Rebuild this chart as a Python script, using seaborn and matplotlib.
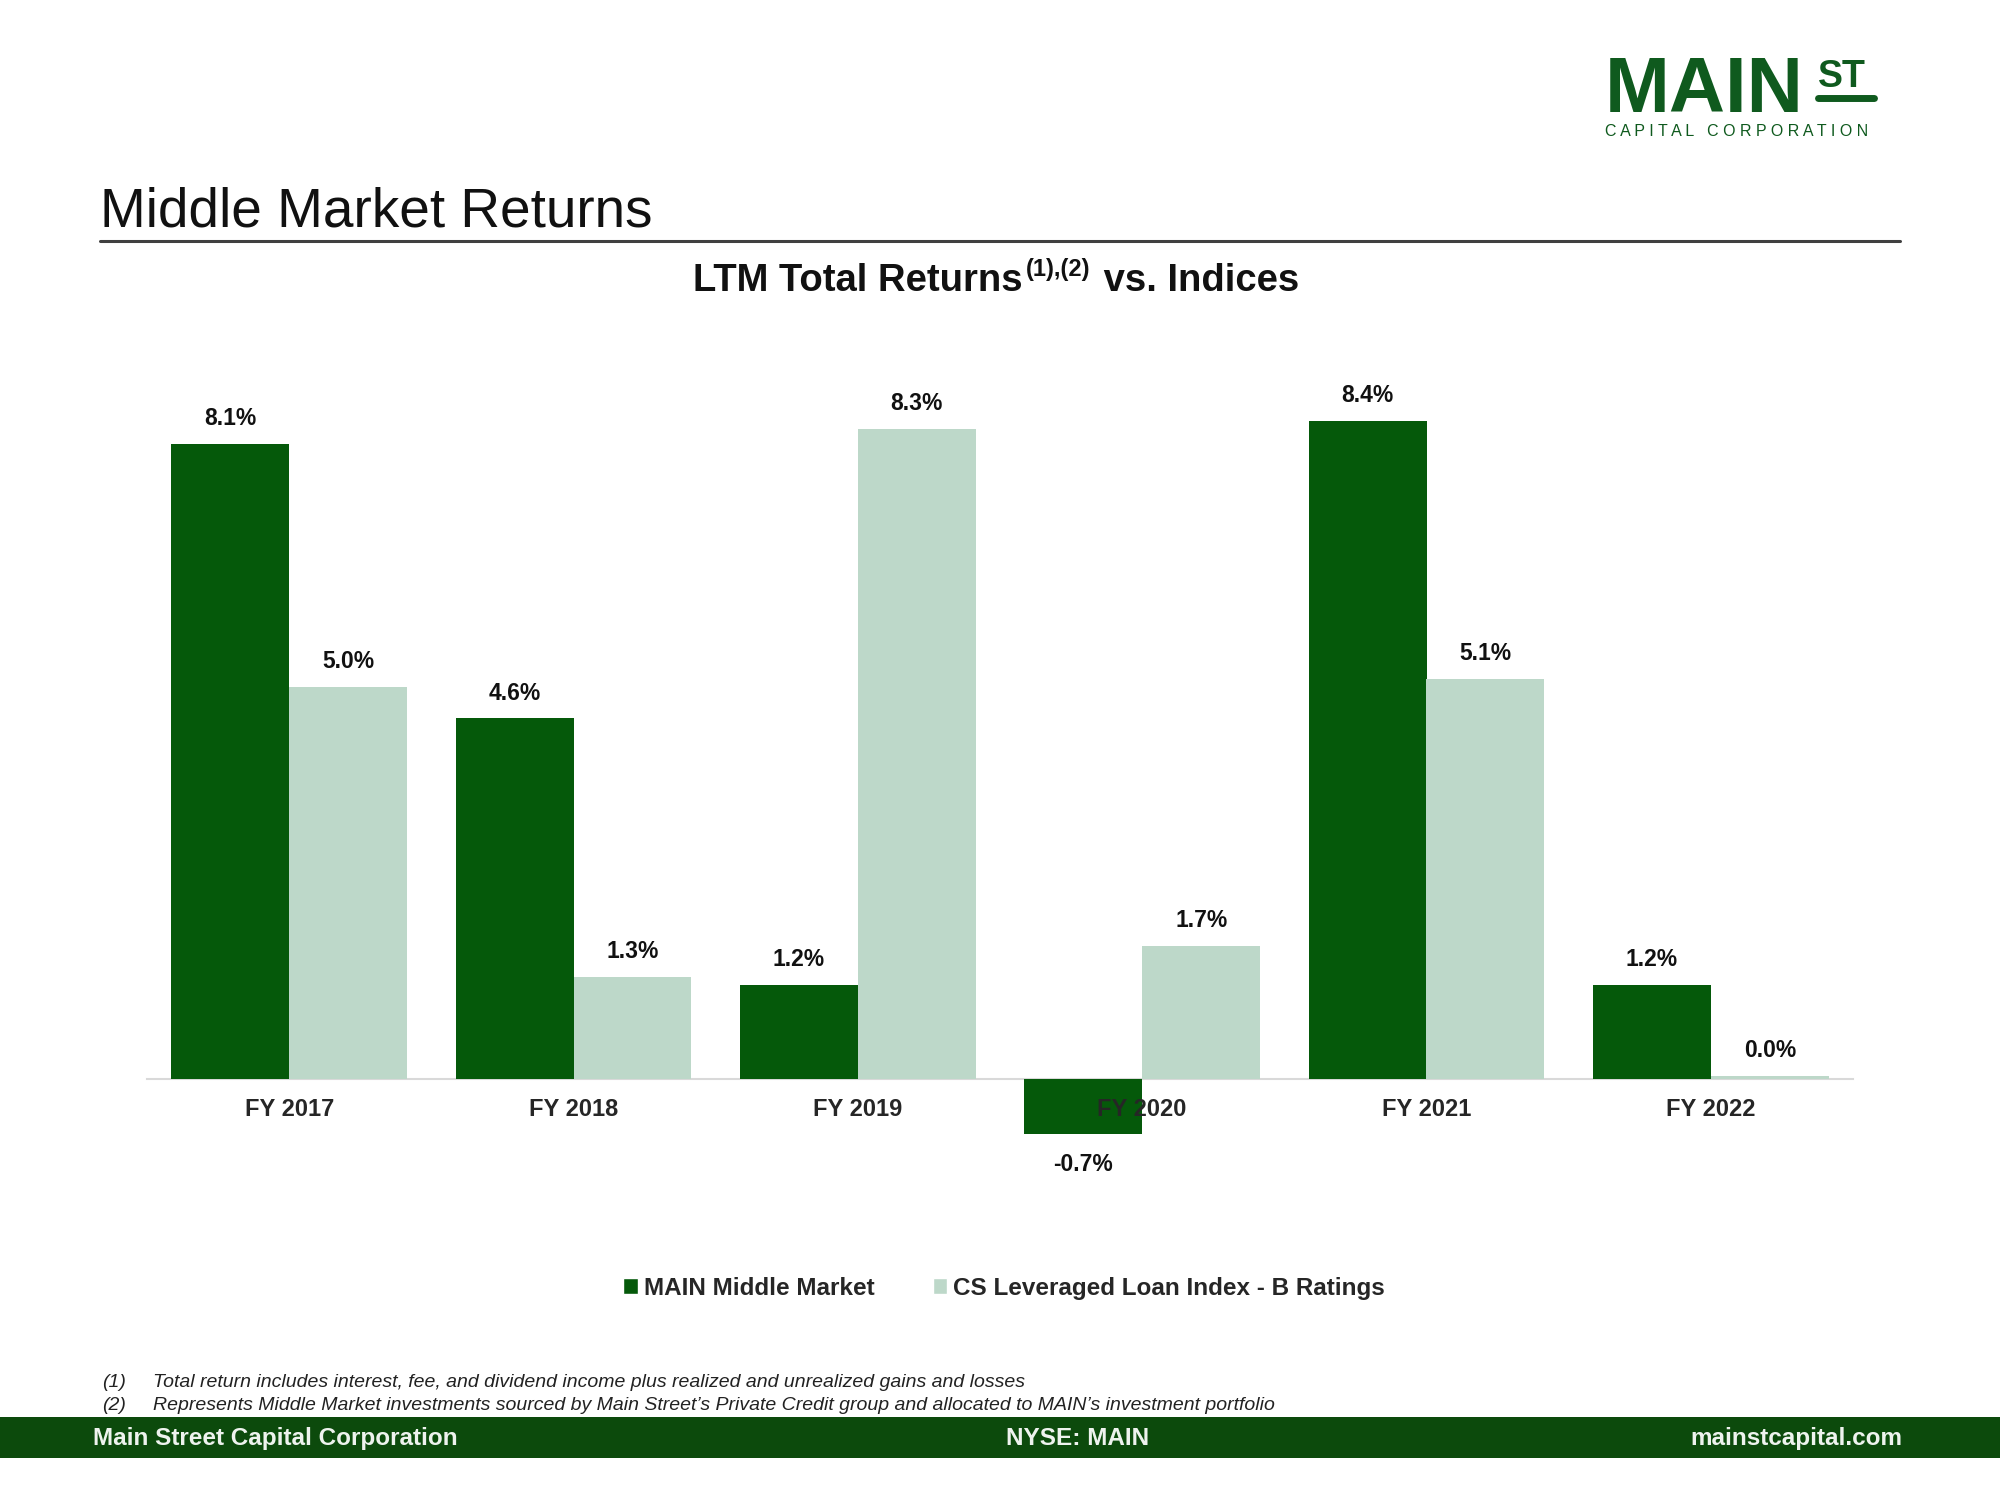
import numpy as np
import pandas as pd
import matplotlib
matplotlib.use("Agg")
import matplotlib.pyplot as plt
from matplotlib.patches import Patch, Rectangle
from matplotlib.lines import Line2D
import seaborn as sns

# ===============================
# DATA
# ===============================
years = ["FY 2017", "FY 2018", "FY 2019", "FY 2020", "FY 2021", "FY 2022"]
main_returns = [8.1, 4.6, 1.2, -0.7, 8.4, 1.2]
cs_returns = [5.0, 1.3, 8.3, 1.7, 5.1, 0.04]
series_names = ["MAIN Middle Market", "CS Leveraged Loan Index - B Ratings"]

df = pd.DataFrame({"year": years, series_names[0]: main_returns, series_names[1]: cs_returns})
df = df.melt(id_vars="year", var_name="series", value_name="ret")

DARK = "#05590A"
LIGHT = "#BDD8C9"
FOOT = "#0C4A0C"
FONT = "Liberation Sans"

sns.set_style("white")
plt.rcParams["font.family"] = [FONT, "DejaVu Sans"]

fig = plt.figure(figsize=(20, 15), dpi=100)
ax = fig.add_axes([0.0735, 0.218, 0.853, 0.559])

sns.barplot(data=df, x="year", y="ret", hue="series", order=years,
            hue_order=series_names, palette={series_names[0]: DARK, series_names[1]: LIGHT},
            width=0.83, saturation=1, linewidth=0, ax=ax, legend=False)

# value labels: above positive bars, below negative ones
for cont in ax.containers:
    for b in cont:
        h = b.get_height()
        ax.annotate(f"{h:.1f}%", xy=(b.get_x() + b.get_width() / 2, h),
                    xytext=(0, 10 if h >= 0 else -14), textcoords="offset points",
                    ha="center", va="bottom" if h >= 0 else "top",
                    fontsize=16.5, fontweight="bold", color="#111111")

ax.set_xlim(-0.5, 5.5)
ax.set_ylim(-1.2, 9.5)
ax.set_xlabel("")
ax.set_ylabel("")
ax.set_yticks([])
ax.set_axisbelow(False)
for s in ["top", "left", "right"]:
    ax.spines[s].set_visible(False)
ax.spines["bottom"].set_position(("data", 0))
ax.spines["bottom"].set_color("#D9D9D9")
ax.spines["bottom"].set_linewidth(1.5)
ax.spines["bottom"].set_zorder(0.5)
ax.tick_params(axis="x", length=0, pad=14, labelsize=17)
for lbl in ax.get_xticklabels():
    lbl.set_fontweight("bold")

# legend
handles = [Patch(facecolor=DARK), Patch(facecolor=LIGHT)]
fig.legend(handles, series_names, loc="center", bbox_to_anchor=(0.502, 0.1413), ncol=2,
           frameon=False, handlelength=0.6, handleheight=0.6, handletextpad=0.25,
           columnspacing=2.4, prop={"family": FONT, "weight": "bold", "size": 17.5})

# ===============================
# PAGE TEXT
# ===============================
fig.text(0.05, 0.849, "Middle Market Returns", fontsize=39.5, va="baseline", color="#111111")
fig.add_artist(Line2D([0.05, 0.95], [0.8393, 0.8393], color="#404040", lw=2.2))

t1 = fig.text(0.3465, 0.806, "LTM Total Returns", fontsize=27.5, fontweight="bold",
              va="baseline", color="#111111")
t2 = ax.annotate("(1),(2)", xy=(1, 0.5), xycoords=t1, xytext=(2, 0), textcoords="offset points",
                 fontsize=17, fontweight="bold", va="bottom", ha="left",
                 color="#111111", annotation_clip=False)
ax.annotate(" vs. Indices", xy=(1, 0), xycoords=(t2, t1), xytext=(2, 0),
            textcoords="offset points", fontsize=27.5, fontweight="bold", va="bottom",
            ha="left", color="#111111", annotation_clip=False)

# logo
LOGO = "#0F5A1E"
fig.text(0.8025, 0.925, "MAIN", fontsize=56, fontweight="bold", color=LOGO, va="baseline")
fig.text(0.909, 0.942, "ST", fontsize=27, fontweight="bold", color=LOGO, va="baseline")
fig.add_artist(Line2D([0.909, 0.937], [0.935, 0.935], color=LOGO, lw=5))
fig.text(0.8025, 0.9095, "C A P I T A L   C O R P O R A T I O N", fontsize=11.5,
         color=LOGO, va="baseline")

# footnotes
notes = ["Total return includes interest, fee, and dividend income plus realized and unrealized gains and losses",
         "Represents Middle Market investments sourced by Main Street\u2019s Private Credit group and allocated to MAIN\u2019s investment portfolio"]
for i, (yy, note) in enumerate(zip([0.0753, 0.0603], notes)):
    fig.text(0.051, yy, f"({i + 1})", fontsize=14, style="italic", va="baseline", color="#222222")
    fig.text(0.0765, yy, note, fontsize=14, style="italic", va="baseline", color="#222222")

# footer bar
fig.add_artist(Rectangle((0, 0.028), 1, 0.0273, transform=fig.transFigure,
                         facecolor=FOOT, edgecolor="none"))
fig.text(0.0465, 0.0407, "Main Street Capital Corporation", fontsize=17.5, fontweight="bold",
         color="#EEF3EE", va="center", ha="left")
fig.text(0.539, 0.0407, "NYSE: MAIN", fontsize=17.5, fontweight="bold",
         color="#EEF3EE", va="center", ha="center")
fig.text(0.951, 0.0407, "mainstcapital.com", fontsize=17.5, fontweight="bold",
         color="#EEF3EE", va="center", ha="right")

fig.savefig("out.png", dpi=100, facecolor="white")
